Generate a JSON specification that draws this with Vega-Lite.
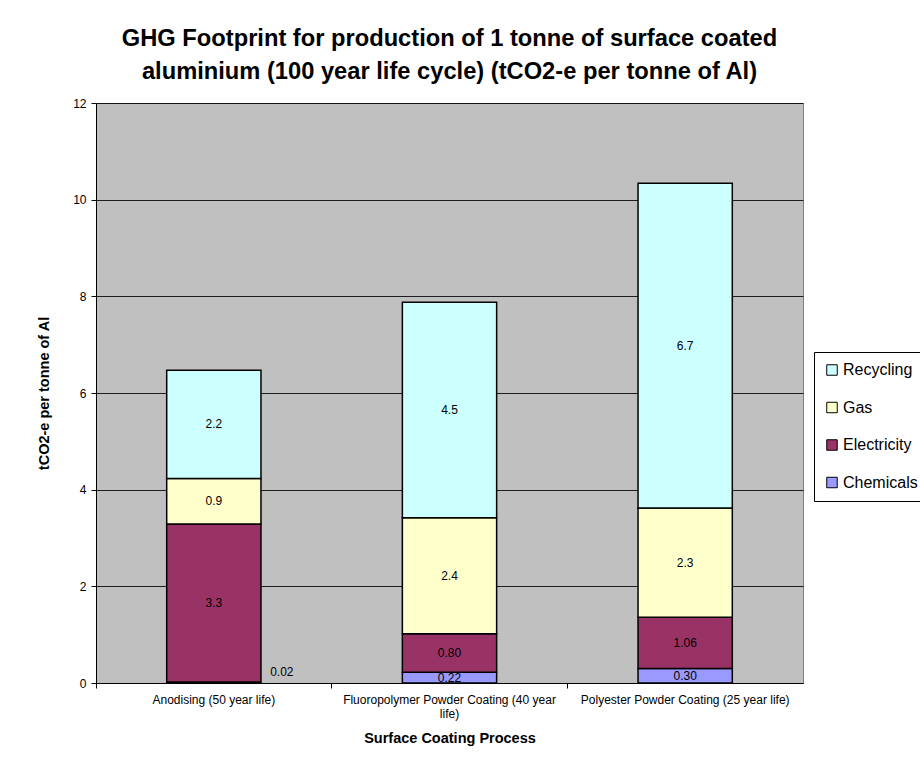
{
  "$schema": "https://vega.github.io/schema/vega-lite/v6.json",
  "description": "GHG footprint of surface coated aluminium, stacked by source.",
  "autosize": "none",
  "padding": {"left": 96, "top": 103, "right": 117, "bottom": 75},
  "width": 707,
  "height": 580,
  "background": "white",
  "title": {
    "text": [
      "GHG Footprint for production of 1 tonne of surface coated",
      "aluminium (100 year life cycle) (tCO2-e per tonne of Al)"
    ],
    "font": "Liberation Sans",
    "fontSize": 23.7,
    "fontWeight": "bold",
    "color": "#000",
    "anchor": "middle",
    "lineHeight": 33,
    "offset": 13
  },
  "data": {
    "values": [
      {"process": "Anodising  (50 year life)", "component": "Chemicals", "value": 0.02, "label": "0.02"},
      {"process": "Anodising  (50 year life)", "component": "Electricity", "value": 3.27, "label": "3.3"},
      {"process": "Anodising  (50 year life)", "component": "Gas", "value": 0.94, "label": "0.9"},
      {"process": "Anodising  (50 year life)", "component": "Recycling", "value": 2.24, "label": "2.2"},
      {"process": "Fluoropolymer Powder Coating (40 year life)", "component": "Chemicals", "value": 0.22, "label": "0.22"},
      {"process": "Fluoropolymer Powder Coating (40 year life)", "component": "Electricity", "value": 0.80, "label": "0.80"},
      {"process": "Fluoropolymer Powder Coating (40 year life)", "component": "Gas", "value": 2.40, "label": "2.4"},
      {"process": "Fluoropolymer Powder Coating (40 year life)", "component": "Recycling", "value": 4.46, "label": "4.5"},
      {"process": "Polyester Powder Coating (25 year life)", "component": "Chemicals", "value": 0.30, "label": "0.30"},
      {"process": "Polyester Powder Coating (25 year life)", "component": "Electricity", "value": 1.06, "label": "1.06"},
      {"process": "Polyester Powder Coating (25 year life)", "component": "Gas", "value": 2.26, "label": "2.3"},
      {"process": "Polyester Powder Coating (25 year life)", "component": "Recycling", "value": 6.72, "label": "6.7"}
    ]
  },
  "layer": [
    {
      "mark": {"type": "bar", "stroke": "#000", "strokeWidth": 1.5},
      "encoding": {
        "x": {
          "field": "process",
          "type": "nominal",
          "sort": null,
          "scale": {"paddingInner": 0.6, "paddingOuter": 0.3},
          "axis": {
            "orient": "bottom",
            "title": "Surface Coating Process",
            "labelAngle": 0,
            "ticks": false,
            "domainColor": "#000",
            "labelColor": "#000",
            "labelFont": "Liberation Sans",
            "labelFontSize": 12,
            "labelPadding": 11,
            "labelLimit": 400,
            "labelExpr": "indexof(datum.label, 'Fluoro') == 0 ? ['Fluoropolymer Powder Coating (40 year', 'life)'] : datum.label",
            "titleFont": "Liberation Sans",
            "titleFontSize": 14.5,
            "titleFontWeight": "bold",
            "titleColor": "#000",
            "titlePadding": 12
          }
        },
        "y": {
          "field": "value",
          "type": "quantitative",
          "stack": "zero",
          "scale": {"domain": [0, 12]},
          "axis": {
            "title": "tCO2-e per tonne of Al",
            "values": [0, 2, 4, 6, 8, 10, 12],
            "grid": true,
            "gridColor": "#000",
            "gridOpacity": 0.85,
            "tickColor": "#000",
            "tickSize": 5,
            "domainColor": "#000",
            "labelColor": "#000",
            "labelFont": "Liberation Sans",
            "labelFontSize": 12,
            "labelPadding": 5,
            "titleFont": "Liberation Sans",
            "titleFontSize": 14.5,
            "titleFontWeight": "bold",
            "titleColor": "#000",
            "titlePadding": 21
          }
        },
        "color": {
          "field": "component",
          "type": "nominal",
          "scale": {
            "domain": ["Recycling", "Gas", "Electricity", "Chemicals"],
            "range": ["#CCFFFF", "#FFFFCC", "#993366", "#9999FF"]
          },
          "legend": {
            "title": null,
            "orient": "none",
            "legendX": 718,
            "legendY": 249,
            "labelFont": "Liberation Sans",
            "labelFontSize": 16,
            "labelColor": "#000",
            "labelOffset": 3,
            "symbolType": "square",
            "symbolSize": 110,
            "symbolStrokeColor": "#000",
            "symbolStrokeWidth": 1,
            "strokeColor": "#000",
            "fillColor": "#fff",
            "padding": 10,
            "rowPadding": 21.5
          }
        },
        "order": {"field": "component", "type": "nominal", "sort": "ascending"}
      }
    },
    {
      "mark": {"type": "text", "font": "Liberation Sans", "fontSize": 12, "color": "#000"},
      "encoding": {
        "x": {
          "field": "process",
          "type": "nominal",
          "sort": null,
          "axis": {
            "orient": "bottom",
            "title": null,
            "labels": false,
            "domain": false,
            "grid": false,
            "ticks": true,
            "tickSize": 5,
            "tickColor": "#000",
            "bandPosition": -0.75
          }
        },
        "y": {"field": "value", "type": "quantitative", "stack": "zero", "bandPosition": 0.5},
        "detail": {"field": "component"},
        "order": {"field": "component", "type": "nominal", "sort": "ascending"},
        "text": {"condition": {"test": "datum.value < 0.1", "value": ""}, "field": "label"}
      }
    },
    {
      "transform": [{"filter": "datum.value < 0.1"}],
      "mark": {"type": "text", "font": "Liberation Sans", "fontSize": 12, "color": "#000", "dx": 68, "dy": -11},
      "encoding": {
        "x": {"field": "process", "type": "nominal", "sort": null, "axis": null},
        "y": {"field": "value", "type": "quantitative", "stack": "zero", "bandPosition": 0.5},
        "text": {"field": "label"}
      }
    }
  ],
  "resolve": {"axis": {"x": "independent"}},
  "config": {
    "view": {"fill": "#C0C0C0", "stroke": "#808080", "strokeWidth": 1}
  }
}
